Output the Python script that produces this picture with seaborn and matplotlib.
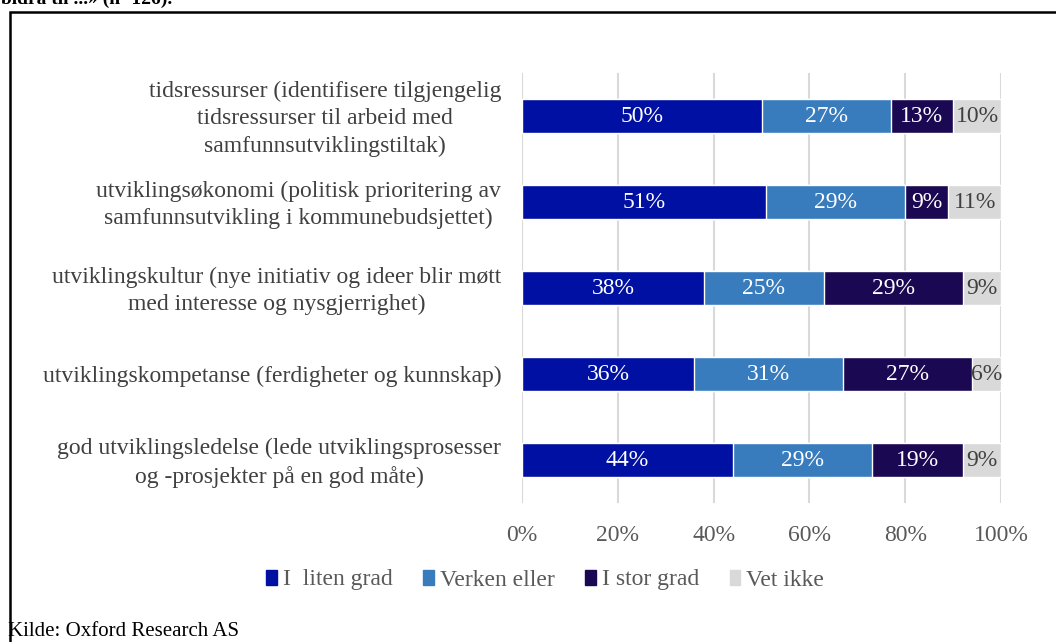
import numpy as np
import pandas as pd
import matplotlib.pyplot as plt
import matplotlib.transforms as mtransforms
import seaborn as sns
from matplotlib.patches import Patch, Rectangle

# data
categories = [
    'tidsressurser (identifisere tilgjengelig\ntidsressurser til arbeid med\nsamfunnsutviklingstiltak)',
    'utviklingsøkonomi (politisk prioritering av\nsamfunnsutvikling i kommunebudsjettet)',
    'utviklingskultur (nye initiativ og ideer blir møtt\nmed interesse og nysgjerrighet)',
    'utviklingskompetanse (ferdigheter og kunnskap)',
    'god utviklingsledelse (lede utviklingsprosesser\nog -prosjekter på en god måte)',
]
series_names = ['I  liten grad', 'Verken eller', 'I stor grad', 'Vet ikke']
liten_grad = [50, 51, 38, 36, 44]
verken_eller = [27, 29, 25, 31, 29]
stor_grad = [13, 9, 29, 27, 19]
vet_ikke = [10, 11, 9, 6, 9]
x_ticks = [0, 20, 40, 60, 80, 100]

colors = ['#0010A2', '#387CBE', '#1B0852', '#D9D9D9']
label_colors = ['white', 'white', 'white', '#404040']

df = pd.DataFrame({'cat': categories, series_names[0]: liten_grad,
                   series_names[1]: verken_eller, series_names[2]: stor_grad,
                   series_names[3]: vet_ikke})
cum = df[series_names].cumsum(axis=1)

sns.set_style('white')
plt.rcParams['font.family'] = ['Liberation Serif', 'DejaVu Serif']
fs = 17

fig = plt.figure(figsize=(10.56, 6.42), dpi=100)
ax = fig.add_axes([522 / 1056, 1 - 503 / 642, 479 / 1056, 430 / 642])

# stacked bars: draw cumulative totals from the back to the front
for i in range(len(series_names) - 1, -1, -1):
    sns.barplot(x=cum[series_names[i]].clip(upper=100), y=df['cat'], orient='h',
                color=colors[i], width=0.4, ax=ax, saturation=1, zorder=2)

# value labels
for i, name in enumerate(series_names):
    for j in range(len(df)):
        v = df[name][j]
        start = cum[name][j] - v
        ax.text(min(start + v / 2, 100 - v / 2 + 0.5), j, f'{v}%', ha='center', va='center',
                color=label_colors[i], fontsize=fs, zorder=3)

ax.set_xlim(0, 100)
ax.set_ylim(4.5, -0.5)
ax.set_xticks(x_ticks)
ax.set_xticklabels([f'{t}%' for t in x_ticks])
ax.grid(axis='x', color='#D9D9D9', linewidth=1.5, zorder=0)
ax.set_axisbelow(True)
for s in ax.spines.values():
    s.set_visible(False)
ax.set_xlabel('')
ax.set_ylabel('')
ax.tick_params(axis='x', colors='#595959', labelsize=fs, length=0, pad=16)
ax.tick_params(axis='y', colors='#404040', labelsize=fs, length=0, pad=15)
shift_up = mtransforms.ScaledTranslation(0, 3 / 100, fig.dpi_scale_trans)
for lbl in ax.get_yticklabels():
    lbl.set_multialignment('center')
    lbl.set_linespacing(1.42)
    if '\n' in lbl.get_text():
        lbl.set_transform(lbl.get_transform() + shift_up)

# legend
handles = [Patch(color=c, label=n) for c, n in zip(colors, series_names)]
fig.legend(handles=handles, loc='center', bbox_to_anchor=(545 / 1056, 1 - 580 / 642),
           ncol=4, frameon=False, handlelength=0.45, handleheight=0.6,
           handletextpad=0.25, columnspacing=1.3, fontsize=fs, labelcolor='#595959')

# frame and surrounding text
fig.patches.append(Rectangle((10 / 1056, -0.05), 1.1, 1 - 12 / 642 + 0.05,
                             transform=fig.transFigure, fill=False,
                             edgecolor='black', linewidth=1.8))
fig.text(8 / 1056, 1 - 632 / 642, 'Kilde: Oxford Research AS', fontsize=15,
         color='black', va='center')
fig.text(1 / 1056, 1 + 1 / 642, 'bidra til ...» (n=126).', fontsize=14,
         fontweight='bold', color='black', va='center')

fig.savefig('out.png', dpi=100)
